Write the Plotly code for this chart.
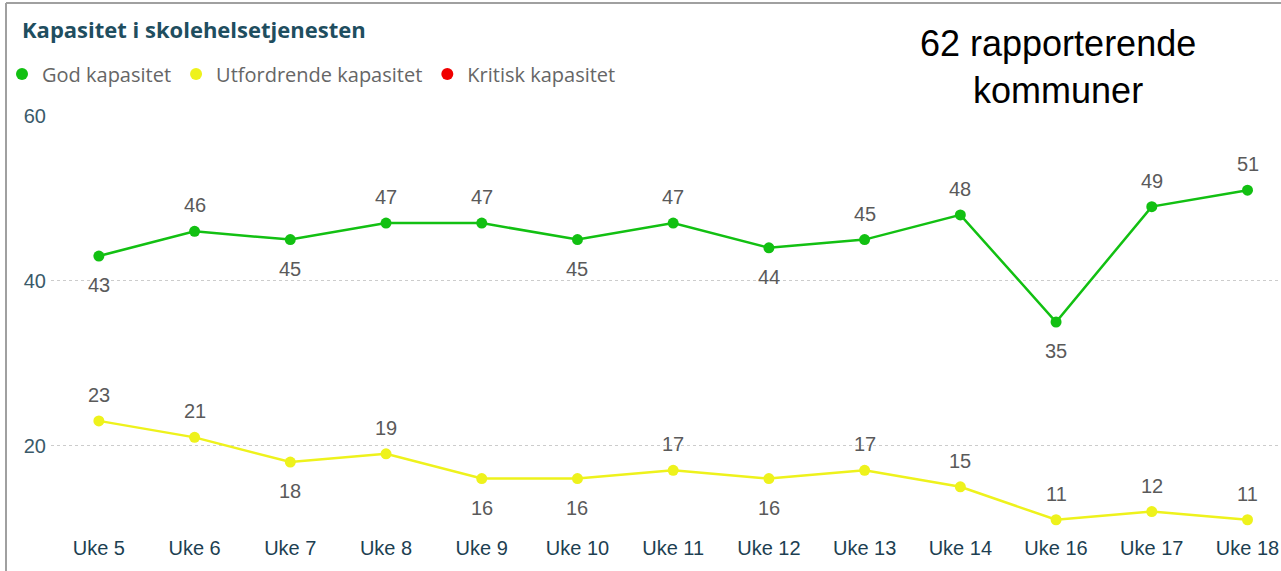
import plotly.graph_objects as go

weeks = ["Uke 5", "Uke 6", "Uke 7", "Uke 8", "Uke 9", "Uke 10", "Uke 11",
         "Uke 12", "Uke 13", "Uke 14", "Uke 16", "Uke 17", "Uke 18"]
god = [43, 46, 45, 47, 47, 45, 47, 44, 45, 48, 35, 49, 51]
utfordrende = [23, 21, 18, 19, 16, 16, 17, 16, 17, 15, 11, 12, 11]
kritisk = [None] * len(weeks)
# label placement: 1 = above, -1 = below
god_pos = [-1, 1, -1, 1, 1, -1, 1, -1, 1, 1, -1, 1, 1]
utf_pos = [1, 1, -1, 1, -1, -1, 1, -1, 1, 1, 1, 1, 1]
yticks = [20, 40, 60]

GREEN = "#12c012"
YELLOW = "#eef21c"
RED = "#f00000"

fig = go.Figure()
fig.add_trace(go.Scatter(x=weeks, y=god, mode="lines+markers", showlegend=False,
                         line=dict(color=GREEN, width=2.5),
                         marker=dict(color=GREEN, size=11)))
fig.add_trace(go.Scatter(x=weeks, y=utfordrende, mode="lines+markers", showlegend=False,
                         line=dict(color=YELLOW, width=2.5),
                         marker=dict(color=YELLOW, size=11)))
fig.add_trace(go.Scatter(x=weeks, y=kritisk, mode="lines+markers", showlegend=False,
                         line=dict(color=RED, width=2.5),
                         marker=dict(color=RED, size=11)))

# legend entries (dots only)
for name, col in [("God kapasitet", GREEN), ("Utfordrende kapasitet", YELLOW),
                  ("Kritisk kapasitet", RED)]:
    fig.add_trace(go.Scatter(x=[None], y=[None], mode="markers", name=name,
                             marker=dict(color=col, size=12)))

annotations = []
for series, pos in [(god, god_pos), (utfordrende, utf_pos)]:
    for w, v, p in zip(weeks, series, pos):
        annotations.append(dict(x=w, y=v, xref="x", yref="y", text=str(v),
                                showarrow=False, yshift=26 if p > 0 else -29,
                                font=dict(family="Liberation Sans, Arial",
                                          size=20, color="#5a5a5a")))
annotations.append(dict(xref="paper", yref="paper", x=(1058 - 51) / 1230,
                        y=(528 - 67) / 412, text="62 rapporterende<br>kommuner",
                        showarrow=False, xanchor="center", yanchor="middle",
                        font=dict(family="Liberation Sans, Arial", size=36, color="#000000")))

fig.update_layout(
    width=1281, height=571,
    margin=dict(l=51, r=0, t=116, b=43, autoexpand=False),
    paper_bgcolor="white", plot_bgcolor="white",
    title=dict(text="<b>Kapasitet i skolehelsetjenesten</b>",
               xref="container", yref="container", x=22 / 1281, xanchor="left",
               y=1 - 30 / 571, yanchor="middle",
               font=dict(family="Open Sans, Liberation Sans", size=22, color="#1f4e5f")),
    legend=dict(orientation="h", x=(2 - 51) / 1230, xanchor="left",
                y=(528 - 74) / 412, yanchor="middle",
                font=dict(family="Open Sans, Liberation Sans", size=20, color="#666666"),
                itemwidth=30, tracegroupgap=0, bgcolor="rgba(0,0,0,0)"),
    annotations=annotations,
    xaxis=dict(type="category", range=[-0.5, 12.35], showgrid=False, zeroline=False,
               showline=False, ticks="", ticklabelstandoff=6,
               tickfont=dict(family="Liberation Sans, Arial",
                             size=20, color="#1d3f52")),
    yaxis=dict(range=[10, 60], tickvals=yticks, showgrid=True, gridcolor="#cccccc",
               griddash="dot", gridwidth=1, zeroline=False, showline=False,
               ticks="", ticklabelstandoff=4,
               tickfont=dict(family="Liberation Sans, Arial",
                             size=20, color="#3a5a6a")),
    shapes=[
        dict(type="line", xref="paper", yref="paper", x0=(6 - 51) / 1230, x1=1.0,
             y0=(528 - 3) / 412, y1=(528 - 3) / 412, line=dict(color="#a0a0a0", width=2)),
        dict(type="line", xref="paper", yref="paper", x0=(6 - 51) / 1230, x1=(6 - 51) / 1230,
             y0=(528 - 3) / 412, y1=(528 - 571) / 412, line=dict(color="#a0a0a0", width=2)),
    ],
)

fig.write_html("out.html", config={"displayModeBar": False},
               post_script="document.body.style.margin='0';")
